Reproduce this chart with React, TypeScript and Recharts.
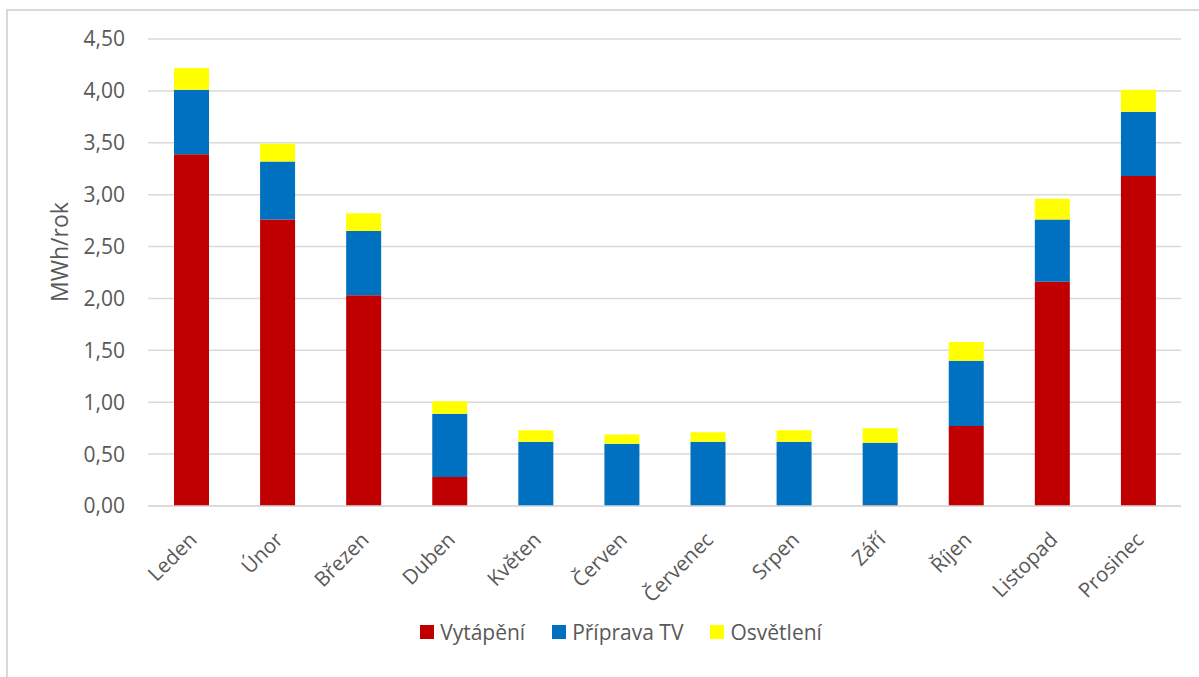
import React from "react"
import { BarChart, Bar, XAxis, YAxis, CartesianGrid, Legend } from "recharts"

const months = [
  "Leden", "Únor", "Březen", "Duben", "Květen", "Červen",
  "Červenec", "Srpen", "Září", "Říjen", "Listopad", "Prosinec",
]
const heating = [3.39, 2.76, 2.03, 0.28, 0, 0, 0, 0, 0.01, 0.77, 2.16, 3.18]
const hotWater = [0.62, 0.56, 0.62, 0.61, 0.62, 0.6, 0.62, 0.62, 0.6, 0.63, 0.6, 0.62]
const lighting = [0.21, 0.17, 0.17, 0.12, 0.11, 0.09, 0.09, 0.11, 0.14, 0.18, 0.2, 0.21]
const yTicks = [0, 0.5, 1, 1.5, 2, 2.5, 3, 3.5, 4, 4.5]

const series = [
  { key: "heating", name: "Vytápění", color: "#C00000" },
  { key: "hotWater", name: "Příprava TV", color: "#0070C0" },
  { key: "lighting", name: "Osvětlení", color: "#FFFF00" },
]

const data = months.map((month, i) => ({
  month,
  heating: heating[i],
  hotWater: hotWater[i],
  lighting: lighting[i],
}))

const FONT = "'Open Sans', sans-serif"
const TEXT = "#595959"
const GRID = "#D9D9D9"

const fmt = (v: number) => v.toFixed(2).replace(".", ",")

function MonthTick(props: any) {
  const { x, y, payload } = props
  const ax = x + 7
  const ay = y + 27
  return (
    <text
      x={ax}
      y={ay}
      textAnchor="end"
      fill={TEXT}
      fontSize={20.5}
      fontFamily={FONT}
      transform={`rotate(-45, ${ax}, ${ay})`}
    >
      {payload.value}
    </text>
  )
}

function UnitLabel() {
  return (
    <text
      x={68}
      y={252}
      textAnchor="middle"
      fill={TEXT}
      fontSize={23}
      fontFamily={FONT}
      transform="rotate(-90, 68, 252)"
    >
      MWh/rok
    </text>
  )
}

// relative shift keeps the legend's measured height unchanged
function LegendContent() {
  return (
    <div
      style={{
        position: "relative",
        top: 3,
        display: "flex",
        justifyContent: "center",
        fontFamily: FONT,
        fontSize: 21,
        color: TEXT,
      }}
    >
      {series.map((s, i) => (
        <div
          key={s.key}
          style={{ display: "flex", alignItems: "center", marginRight: i < series.length - 1 ? 27 : 0 }}
        >
          <span style={{ width: 14, height: 14, background: s.color, display: "inline-block", marginRight: 6 }} />
          <span>{s.name}</span>
        </div>
      ))}
    </div>
  )
}

export default function App() {
  return (
    <div
      style={{
        position: "absolute",
        left: 0,
        top: 0,
        width: 1199,
        height: 677,
        overflow: "hidden",
        background: "#fff",
      }}
    >
      <div
        style={{
          position: "absolute",
          left: 6,
          top: 9,
          width: 1260,
          height: 720,
          border: `2px solid ${GRID}`,
          boxSizing: "border-box",
        }}
      />
      <div style={{ position: "absolute", left: 0, top: 0 }}>
        <BarChart
          width={1199}
          height={677}
          data={data}
          margin={{ top: 39, right: 18, bottom: 0, left: 0 }}
          barSize={35}
        >
          <CartesianGrid vertical={false} stroke={GRID} strokeWidth={1.5} />
          <XAxis
            dataKey="month"
            height={105}
            interval={0}
            tickLine={false}
            axisLine={{ stroke: GRID, strokeWidth: 1.5 }}
            tick={<MonthTick />}
          />
          <YAxis
            width={148}
            domain={[0, 4.5]}
            ticks={yTicks}
            tickFormatter={fmt}
            axisLine={false}
            tickLine={false}
            tickSize={0}
            tickMargin={23}
            tick={{ fill: TEXT, fontSize: 21, fontFamily: FONT }}
            label={<UnitLabel />}
          />
          <Legend
            verticalAlign="bottom"
            height={62}
            wrapperStyle={{ left: 0, width: 1242, paddingTop: 4 }}
            content={<LegendContent />}
          />
          {series.map((s) => (
            <Bar
              key={s.key}
              dataKey={s.key}
              name={s.name}
              stackId="energy"
              fill={s.color}
              isAnimationActive={false}
            />
          ))}
        </BarChart>
      </div>
    </div>
  )
}
